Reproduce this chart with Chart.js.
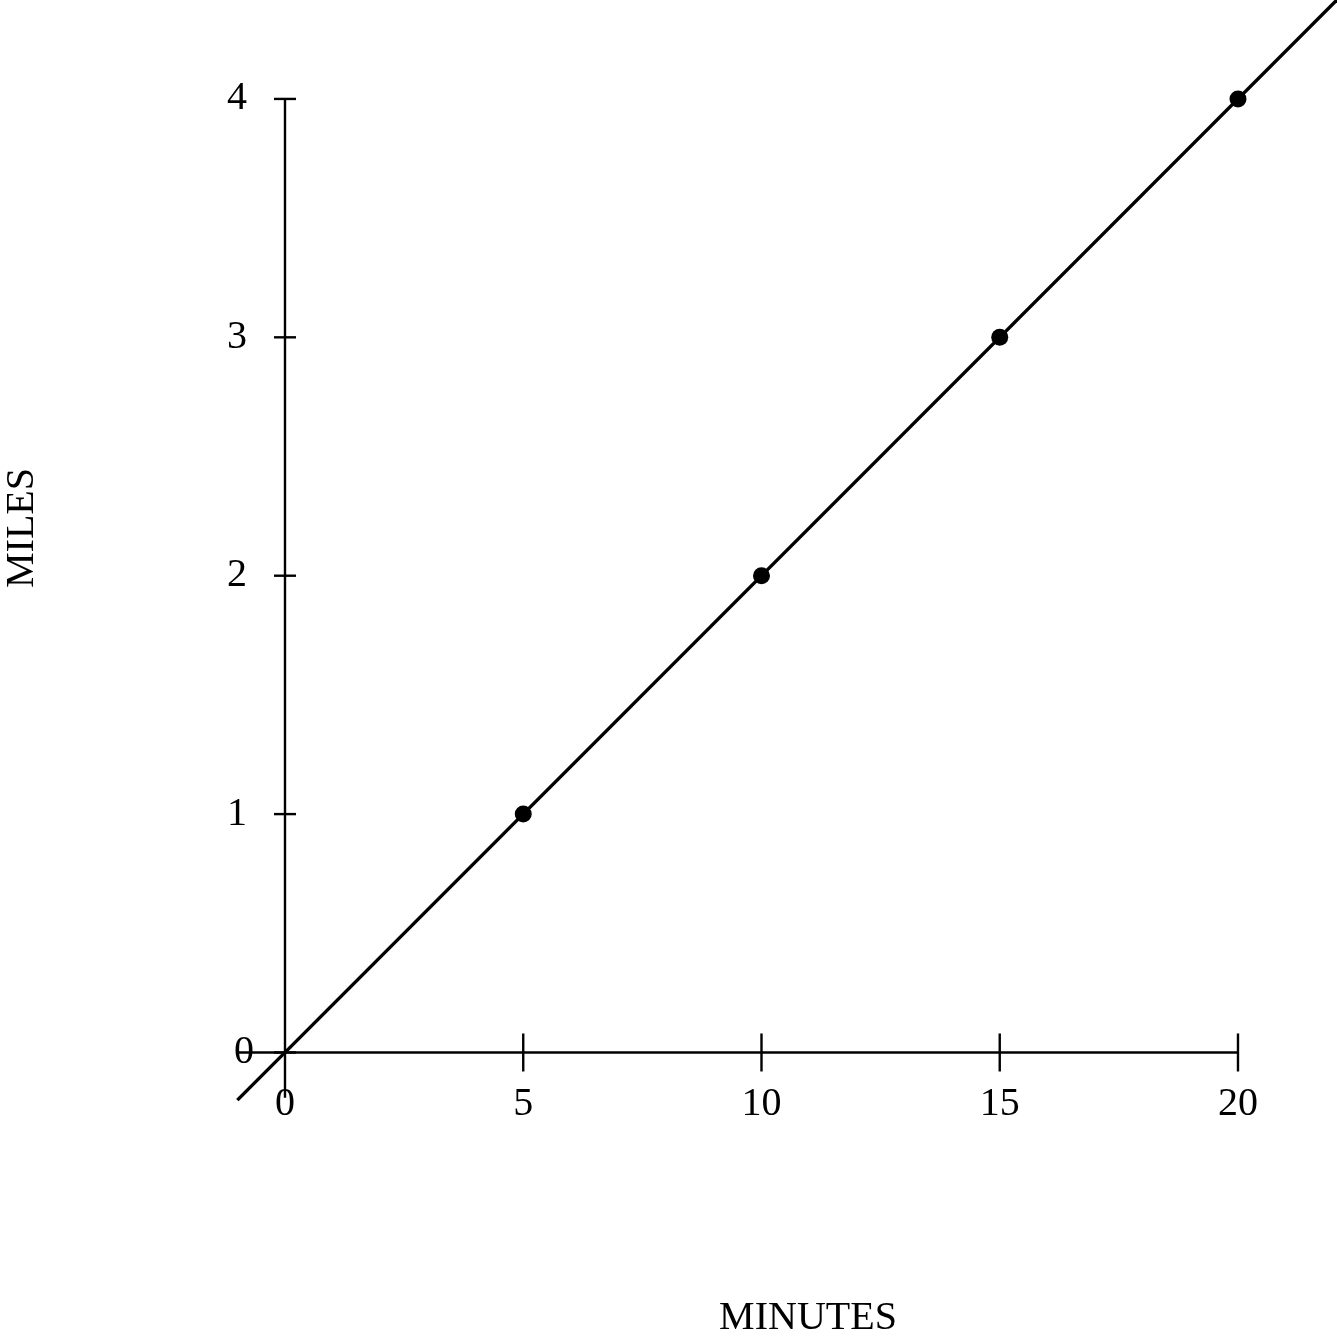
<!DOCTYPE html>
<html>
<head>
<meta charset="utf-8">
<script src="https://cdn.jsdelivr.net/npm/chart.js@4.4.1/dist/chart.umd.min.js"></script>
<style>
  html, body { margin: 0; padding: 0; background: #fff; }
  #wrap { width: 1337px; height: 1337px; }
</style>
</head>
<body>
<div id="wrap"><canvas id="c" width="1337" height="1337"></canvas></div>
<script>
// ---- data ----
const minutes = [5, 10, 15, 20];
const miles = [1, 2, 3, 4];
const fitLineX = [-1, 22.1];
const fitLineY = [-0.2, 4.42];
const xTicks = [0, 5, 10, 15, 20];
const yTicks = [0, 1, 2, 3, 4];
const xTitle = 'MINUTES';
const yTitle = 'MILES';

const FONT = '40px "Liberation Serif", "DejaVu Serif", serif';

const axesPlugin = {
  id: 'axesPlugin',
  afterDatasetsDraw(chart) {
    const ctx = chart.ctx;
    const xs = chart.scales.x, ys = chart.scales.y;
    const X = v => xs.getPixelForValue(v);
    const Y = v => ys.getPixelForValue(v);
    ctx.save();
    ctx.strokeStyle = '#000';
    ctx.fillStyle = '#000';
    ctx.lineWidth = 2.4;
    ctx.lineCap = 'butt';
    // x axis line
    ctx.beginPath();
    ctx.moveTo(X(-1), Y(0));
    ctx.lineTo(X(xTicks[xTicks.length - 1]), Y(0));
    ctx.stroke();
    // y axis line
    ctx.beginPath();
    ctx.moveTo(X(0), Y(-0.19));
    ctx.lineTo(X(0), Y(yTicks[yTicks.length - 1]));
    ctx.stroke();
    // x ticks
    xTicks.forEach(t => {
      if (t === 0) return;
      ctx.beginPath();
      ctx.moveTo(X(t), Y(0) - 19);
      ctx.lineTo(X(t), Y(0) + 19);
      ctx.stroke();
    });
    // y ticks
    yTicks.forEach(t => {
      ctx.beginPath();
      ctx.moveTo(X(0) - 11, Y(t));
      ctx.lineTo(X(0) + 11, Y(t));
      ctx.stroke();
    });
    ctx.font = FONT;
    // x tick labels
    ctx.textAlign = 'center';
    ctx.textBaseline = 'middle';
    xTicks.forEach(t => {
      ctx.fillText(String(t), X(t), Y(0) + 52);
    });
    // y tick labels
    yTicks.forEach(t => {
      ctx.fillText(String(t), X(0) - (t === 0 ? 41 : 48), Y(t));
    });
    // axis titles
    ctx.fillText(xTitle, 808, 1318);
    ctx.save();
    ctx.translate(22, 528);
    ctx.rotate(-Math.PI / 2);
    ctx.fillText(yTitle, 0, 0);
    ctx.restore();
    ctx.restore();
  }
};

new Chart(document.getElementById('c'), {
  type: 'scatter',
  data: {
    datasets: [
      {
        data: fitLineX.map((x, i) => ({ x, y: fitLineY[i] })),
        showLine: true,
        borderColor: '#000',
        borderWidth: 3.4,
        pointRadius: 0,
        fill: false
      },
      {
        data: minutes.map((x, i) => ({ x, y: miles[i] })),
        showLine: false,
        pointRadius: 8.5,
        pointBackgroundColor: '#000',
        pointBorderColor: '#000',
        pointBorderWidth: 0
      }
    ]
  },
  options: {
    responsive: false,
    animation: false,
    devicePixelRatio: 1,
    layout: { padding: 0, autoPadding: false },
    plugins: { legend: { display: false }, tooltip: { enabled: false } },
    scales: {
      x: { type: 'linear', display: false, min: -5.981, max: 22.078 },
      y: { type: 'linear', display: false, min: -1.1935, max: 4.415 }
    }
  },
  plugins: [axesPlugin]
});
</script>
</body>
</html>
